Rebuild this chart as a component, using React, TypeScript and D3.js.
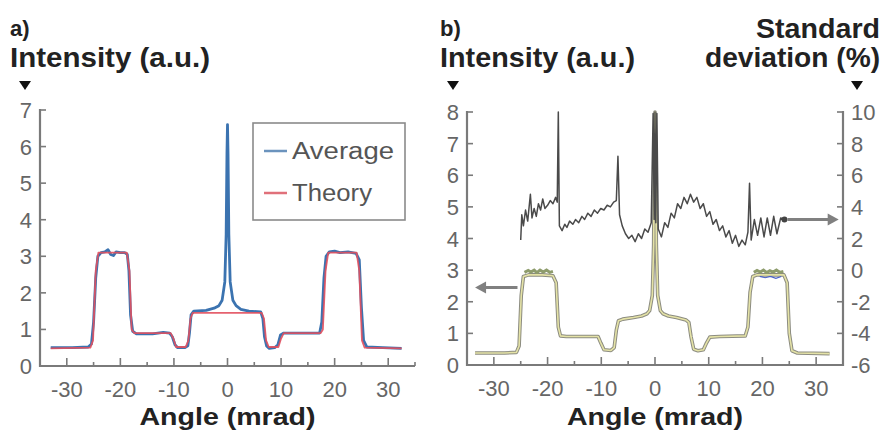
import React, { useEffect, useRef } from 'react';
import * as d3 from 'd3';

type Pt = [number, number];

// panel a) [angle (mrad), intensity (a.u.)]
const averageA: Pt[] = [
    [-33, 0.5], [-29, 0.5], [-26, 0.52], [-25.4, 0.6], [-25, 1.2], [-24.6, 2.4], [-24.2, 3.0], [-23.6, 3.1],
    [-22.9, 3.12], [-22.3, 3.18], [-21.8, 3.05], [-21.3, 3.02], [-20.8, 3.12], [-20, 3.1], [-19.2, 3.1],
    [-18.7, 3.05], [-18.4, 2.6], [-18.1, 1.4], [-17.7, 0.95], [-17, 0.88], [-14, 0.88], [-12, 0.92],
    [-10.8, 0.9], [-10.3, 0.8], [-9.8, 0.58], [-9.3, 0.5], [-8, 0.5], [-7.4, 0.55], [-7.1, 0.9], [-6.8, 1.4],
    [-6.3, 1.5], [-4, 1.52], [-2.5, 1.58], [-1.6, 1.65], [-1, 1.8], [-0.5, 2.3], [-0.25, 3.6], [-0.1, 5.8],
    [0, 6.6], [0.1, 5.8], [0.25, 3.6], [0.5, 2.3], [1, 1.8], [1.6, 1.65], [2.5, 1.55], [4, 1.5], [6.2, 1.48],
    [6.6, 1.3], [6.9, 0.8], [7.3, 0.55], [7.8, 0.48], [8.8, 0.5], [9.4, 0.58], [9.9, 0.85], [10.5, 0.9],
    [14, 0.9], [17.2, 0.9], [17.6, 1.2], [18, 2.4], [18.4, 3.0], [19, 3.12], [20, 3.14], [21, 3.1],
    [22.5, 3.12], [24, 3.08], [24.6, 2.9], [25, 1.6], [25.4, 0.7], [26, 0.52], [29, 0.5], [32.5, 0.48],
];

const theoryA: Pt[] = [
    [-33, 0.48], [-25.6, 0.5], [-25.1, 0.7], [-24.6, 2.6], [-24.1, 3.1], [-18.8, 3.1], [-18.3, 2.6],
    [-17.9, 1.0], [-17.4, 0.9], [-10.6, 0.9], [-10.1, 0.75], [-9.6, 0.52], [-7.8, 0.52], [-7.3, 0.7],
    [-6.9, 1.3], [-6.5, 1.45], [6.4, 1.45], [6.8, 1.3], [7.2, 0.7], [7.7, 0.52], [9.5, 0.52], [10, 0.75],
    [10.5, 0.9], [17.4, 0.9], [17.8, 1.0], [18.3, 2.6], [18.8, 3.1], [24.1, 3.1], [24.6, 2.6], [25.1, 0.7],
    [25.6, 0.5], [32.5, 0.48],
];

// panel b) intensity profiles
const intensityB: Pt[] = [
    [-33.5, 0.38], [-28, 0.38], [-25.8, 0.4], [-25.3, 0.6], [-24.9, 2.2], [-24.5, 2.8], [-23.5, 2.85],
    [-21, 2.85], [-19, 2.82], [-18.4, 2.6], [-18, 1.2], [-17.6, 0.92], [-16.5, 0.9], [-12, 0.9],
    [-10.6, 0.9], [-10.1, 0.7], [-9.5, 0.48], [-8.2, 0.46], [-7.6, 0.55], [-7.2, 1.1], [-6.8, 1.4],
    [-6, 1.45], [-4, 1.5], [-2.5, 1.55], [-1.5, 1.62], [-1, 1.72], [-0.5, 2.2], [-0.25, 3.8], [-0.1, 7.0],
    [0, 8.0], [0.1, 7.0], [0.25, 3.8], [0.5, 2.2], [1, 1.72], [1.5, 1.62], [2.5, 1.55], [4, 1.5],
    [5.8, 1.42], [6.3, 1.35], [6.7, 0.9], [7.2, 0.5], [8, 0.45], [9, 0.48], [9.6, 0.7], [10.2, 0.88],
    [12, 0.9], [16.8, 0.92], [17.3, 1.2], [17.7, 2.3], [18.2, 2.8], [19, 2.85], [22, 2.85], [24, 2.85],
    [24.6, 2.6], [25, 1.0], [25.5, 0.45], [26.5, 0.38], [32.5, 0.36],
];

const plateauLeftB: Pt[] = [
    [-24.3, 2.93], [-23.6, 2.99], [-23.1, 2.94], [-22.5, 3.0], [-22, 2.92], [-21.4, 3.0], [-20.8, 2.94],
    [-20.2, 3.0], [-19.6, 2.93], [-19.0, 2.96],
];
const plateauRightB: Pt[] = [
    [18.4, 2.93], [19, 2.99], [19.6, 2.94], [20.2, 3.0], [20.8, 2.92], [21.4, 2.98], [22, 2.94],
    [22.6, 3.0], [23.2, 2.93], [23.9, 2.96],
];
const plateauBlueB: Pt[] = [[19.5, 2.8], [20.5, 2.76], [21.5, 2.8], [22.5, 2.74], [23.5, 2.8]];

// panel b) standard deviation (%), right axis
const stdDevB: Pt[] = [
    [-25, 1.9], [-24.8, 3.5], [-24.5, 2.8], [-24.1, 3.8], [-23.7, 3.1], [-23.2, 4.8], [-22.9, 3.3],
    [-22.5, 3.9], [-22.1, 3.4], [-21.7, 4.2], [-21.3, 3.8], [-20.9, 4.5], [-20.5, 3.9], [-20, 4.1],
    [-19.5, 4.4], [-19, 4.2], [-18.5, 4.6], [-18.2, 4.3], [-18, 10.0], [-17.8, 2.8], [-17.3, 2.5],
    [-16.8, 2.9], [-16.4, 2.7], [-15.9, 3.1], [-15.3, 2.9], [-14.8, 3.2], [-14.2, 3.0], [-13.6, 3.4],
    [-13.1, 3.2], [-12.5, 3.6], [-11.9, 3.4], [-11.3, 3.8], [-10.7, 3.6], [-10.1, 3.9], [-9.5, 3.8],
    [-8.9, 4.1], [-8.3, 4.0], [-7.7, 4.3], [-7.2, 4.4], [-6.9, 7.2], [-6.6, 3.5], [-6.1, 2.8],
    [-5.5, 2.3], [-4.9, 2.0], [-4.3, 2.2], [-3.7, 1.8], [-3.1, 2.3], [-2.5, 2.0], [-1.9, 2.6], [-1.3, 2.4],
    [-0.7, 3.0], [-0.35, 9.9], [-0.15, 3.2], [0, 10.0], [0.15, 3.0], [0.35, 9.9], [0.6, 2.6], [1.2, 2.1],
    [1.8, 3.0], [2.4, 2.7], [3, 3.6], [3.6, 3.3], [4.2, 4.2], [4.8, 3.9], [5.4, 4.6], [6, 4.2], [6.6, 4.8],
    [7.2, 4.3], [7.8, 4.6], [8.4, 3.9], [9, 4.2], [9.6, 3.4], [10.2, 3.7], [10.8, 2.9], [11.4, 3.2],
    [12, 2.5], [12.6, 2.8], [13.2, 2.1], [13.8, 2.5], [14.4, 1.7], [15, 2.2], [15.6, 1.5], [16.2, 1.9],
    [16.8, 1.6], [17.3, 2.4], [17.6, 5.5], [17.9, 1.9], [18.5, 3.2], [19.1, 2.2], [19.7, 3.3], [20.3, 2.1],
    [20.9, 3.3], [21.5, 2.2], [22.1, 3.4], [22.7, 2.3], [23.4, 3.3], [24.1, 3.2],
];

const xTicks = [-30, -20, -10, 0, 10, 20, 30];
const xMinorTicks = [-25, -15, -5, 5, 15, 25, 35];
const yTicksA = [0, 1, 2, 3, 4, 5, 6, 7];
const yTicksB = [0, 1, 2, 3, 4, 5, 6, 7, 8];
const yTicksR = [-6, -4, -2, 0, 2, 4, 6, 8, 10];

const axisColor = '#7a7a7a';
const labelColor = '#666';
const font = '"Liberation Sans", Arial, sans-serif';

const App = () => {
    const svgRef = useRef<SVGSVGElement>(null);
    const width = 883;
    const height = 436;

    useEffect(() => {
        const svg = d3.select(svgRef.current);
        svg.selectAll('*').remove();

        const xA = d3.scaleLinear().domain([-35, 35]).range([40, 415]);
        const yA = d3.scaleLinear().domain([0, 7]).range([366, 110]);
        const xB = d3.scaleLinear().domain([-35, 35]).range([467, 843]);
        const yB = d3.scaleLinear().domain([0, 8]).range([365, 112]);
        const yR = d3.scaleLinear().domain([-6, 10]).range([365, 112]);

        const text = (x, y, str, size, opts: any = {}) => {
            const t = svg.append('text')
                .attr('x', x).attr('y', y)
                .attr('font-family', font)
                .attr('font-size', size)
                .attr('font-weight', opts.bold ? 'bold' : 'normal')
                .attr('fill', opts.fill || '#222')
                .attr('text-anchor', opts.anchor || 'start')
                .text(str);
            if (opts.len) t.attr('textLength', opts.len).attr('lengthAdjust', 'spacingAndGlyphs');
            return t;
        };

        const triangle = (cx, top) => {
            svg.append('path')
                .attr('d', `M${cx - 6},${top}L${cx + 6},${top}L${cx},${top + 9}Z`)
                .attr('fill', '#111');
        };

        // x axis with inward ticks, shared by both panels
        const drawXAxis = (x, y0) => {
            const g = svg.append('g').attr('stroke', axisColor);
            g.append('line').attr('x1', x.range()[0]).attr('x2', x.range()[1])
                .attr('y1', y0).attr('y2', y0).attr('stroke-width', 2.2);
            g.selectAll('.maj').data(xTicks).join('line')
                .attr('x1', d => x(d)).attr('x2', d => x(d))
                .attr('y1', y0).attr('y2', y0 - 8).attr('stroke-width', 1.6);
            g.selectAll('.min').data(xMinorTicks).join('line')
                .attr('x1', d => x(d)).attr('x2', d => x(d))
                .attr('y1', y0).attr('y2', y0 - 4).attr('stroke-width', 1.6);
            svg.append('g').selectAll('text').data(xTicks).join('text')
                .attr('x', d => x(d)).attr('y', y0 + 31)
                .attr('text-anchor', 'middle')
                .attr('font-family', font).attr('font-size', 22)
                .attr('fill', labelColor)
                .text(d => d);
            text(x(0), 425, 'Angle (mrad)', 24, { bold: true, anchor: 'middle', len: 176 });
        };

        const drawYAxis = (y, x0, ticks, side) => {
            const dir = side === 'left' ? 1 : -1;
            const g = svg.append('g').attr('stroke', axisColor);
            g.append('line').attr('x1', x0).attr('x2', x0)
                .attr('y1', y.range()[0] + 1).attr('y2', y.range()[1] - 1).attr('stroke-width', 2.2);
            g.selectAll('line.t').data(ticks).join('line')
                .attr('x1', x0).attr('x2', x0 + dir * 6)
                .attr('y1', d => y(d)).attr('y2', d => y(d)).attr('stroke-width', 1.6);
            svg.append('g').selectAll('text').data(ticks).join('text')
                .attr('x', x0 - dir * 8).attr('y', d => y(d) + 8)
                .attr('text-anchor', side === 'left' ? 'end' : 'start')
                .attr('font-family', font).attr('font-size', 22)
                .attr('fill', labelColor)
                .text(d => d);
        };

        // ---- panel a
        text(10, 36, 'a)', 22, { bold: true });
        text(10, 67, 'Intensity (a.u.)', 27, { bold: true, len: 200 });
        triangle(25, 81);
        drawYAxis(yA, 40, yTicksA, 'left');
        drawXAxis(xA, 366);

        const lineA = d3.line<Pt>().x(d => xA(d[0])).y(d => yA(d[1]));
        svg.append('path').datum(averageA).attr('d', lineA)
            .attr('fill', 'none').attr('stroke', '#3b73b0').attr('stroke-width', 2.8)
            .attr('stroke-linejoin', 'round');
        svg.append('path').datum(theoryA).attr('d', lineA)
            .attr('fill', 'none').attr('stroke', '#e2505e').attr('stroke-width', 1.8)
            .attr('stroke-opacity', 0.9).attr('stroke-linejoin', 'round');

        // legend
        const lg = svg.append('g');
        lg.append('rect').attr('x', 253).attr('y', 123).attr('width', 152).attr('height', 97)
            .attr('fill', 'white').attr('stroke', '#8a8a8a').attr('stroke-width', 1.6);
        [['Average', '#6b93bd', 151, 102], ['Theory', '#e0707a', 193, 80]].forEach(([name, color, y, len]: any) => {
            lg.append('line').attr('x1', 264).attr('x2', 287).attr('y1', y).attr('y2', y)
                .attr('stroke', color).attr('stroke-width', 2.5);
            text(292, y + 8, name, 23, { fill: '#555', len });
        });

        // ---- panel b
        text(440, 36, 'b)', 22, { bold: true });
        text(440, 67, 'Intensity (a.u.)', 27, { bold: true, len: 195 });
        text(880, 38, 'Standard', 27, { bold: true, anchor: 'end', len: 124 });
        text(880, 67, 'deviation (%)', 27, { bold: true, anchor: 'end', len: 175 });
        triangle(453, 81);
        triangle(857, 81);
        drawYAxis(yB, 467, yTicksB, 'left');
        drawYAxis(yR, 843, yTicksR, 'right');
        drawXAxis(xB, 365);

        const lineB = d3.line<Pt>().x(d => xB(d[0])).y(d => yB(d[1]));
        const lineR = d3.line<Pt>().x(d => xB(d[0])).y(d => yR(d[1]));

        svg.append('path').datum(intensityB).attr('d', lineB)
            .attr('fill', 'none').attr('stroke', '#8c8c80').attr('stroke-width', 3.6)
            .attr('stroke-linejoin', 'round');
        [plateauLeftB, plateauRightB].forEach(p => {
            svg.append('path').datum(p).attr('d', lineB)
                .attr('fill', 'none').attr('stroke', '#8e9c6c').attr('stroke-width', 3);
        });
        svg.append('path').datum(plateauBlueB).attr('d', lineB)
            .attr('fill', 'none').attr('stroke', '#4a62c8').attr('stroke-width', 1.2);
        svg.append('path').datum(intensityB).attr('d', lineB)
            .attr('fill', 'none').attr('stroke', '#e4e2a6').attr('stroke-width', 1.6)
            .attr('stroke-linejoin', 'round');

        svg.append('path').datum(stdDevB).attr('d', lineR)
            .attr('fill', 'none').attr('stroke', '#4a4a4a').attr('stroke-width', 1.5)
            .attr('stroke-linejoin', 'round');

        // arrows pointing at the axes
        const last = stdDevB[stdDevB.length - 1];
        svg.append('circle').attr('cx', xB(last[0])).attr('cy', yR(last[1])).attr('r', 3).attr('fill', '#444');
        const arrow = (x1, x2, y) => {
            const dir = Math.sign(x2 - x1);
            svg.append('line').attr('x1', x1).attr('x2', x2 - dir * 8).attr('y1', y).attr('y2', y)
                .attr('stroke', '#808080').attr('stroke-width', 3);
            svg.append('path')
                .attr('d', `M${x2},${y}L${x2 - dir * 11},${y - 6}L${x2 - dir * 11},${y + 6}Z`)
                .attr('fill', '#808080');
        };
        arrow(xB(last[0]) + 3, xB(34.2), yR(last[1]));
        arrow(xB(-25.6), xB(-33.5), yB(2.45));
    }, []);

    return (
        <svg ref={svgRef} width={width} height={height}
            style={{ position: 'absolute', left: 0, top: 0, background: 'white' }}></svg>
    );
};

export default App;
